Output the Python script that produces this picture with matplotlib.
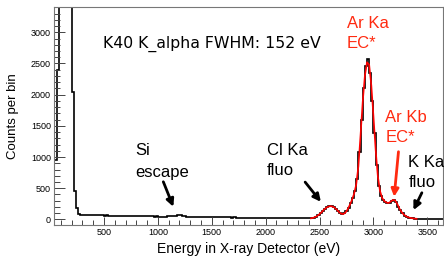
import matplotlib
matplotlib.use("Agg")
import matplotlib.pyplot as plt
import matplotlib.ticker as ticker
import numpy as np

# histogram: 20 eV bins starting at 40 eV
bin_start = 40
bin_width = 20
counts = [
    950, 2400, 5000, 5000, 5000, 5000, 5000, 5000, 2050, 450, 190, 90,
    # 280 - 500
    72, 68, 70, 66, 69, 67, 65, 68, 64, 66, 63,
    # 500 - 1000
    62, 64, 60, 61, 59, 60, 57, 56, 57, 55, 56, 53, 52, 54, 51, 52, 50, 51, 49,
    48, 50, 47, 48, 46, 47,
    # 1000 - 1100
    45, 46, 44, 45, 47,
    # Si escape 1100 - 1300
    50, 54, 58, 62, 64, 63, 58, 52, 46, 42,
    # 1300 - 2000
    41, 40, 39, 40, 38, 37, 38, 36, 37, 35, 36, 34, 35, 33, 34, 32, 33, 31, 32,
    30, 31, 29, 30, 29, 28, 29, 27, 28, 26, 27, 25, 26, 24, 25, 24,
    # 2000 - 2400
    23, 24, 22, 23, 21, 22, 20, 21, 19, 20, 18, 19, 17, 18, 17, 16, 17, 15, 16, 15,
    # 2400 - 3400
    18, 22, 30, 45, 70, 100, 135, 172, 195, 210,
    214, 200, 170, 135, 100, 82, 95, 140, 190, 260,
    340, 460, 650, 1080, 1600, 2100, 2460, 2570, 2350, 1900,
    1380, 880, 540, 380, 310, 280, 262, 265, 300, 318,
    280, 205, 145, 100, 62, 42, 30, 22, 15, 12,
    # 3400 - 3660
    11, 10, 12, 9, 10, 11, 9, 10, 8, 10, 9, 8, 9,
]

# red fit curve
fit_energy = np.arange(2420, 3401, 20)
fit_counts = [
    17, 25, 38, 58, 85, 118, 155, 185, 205, 212,
    207, 188, 155, 118, 92, 85, 110, 160, 230, 310,
    410, 560, 850, 1350, 1880, 2300, 2520, 2480, 2150, 1650,
    1120, 700, 460, 345, 295, 270, 262, 285, 312, 305,
    250, 175, 120, 80, 52, 35, 25, 18, 13, 10,
]

ymax = 3400
edges = bin_start + bin_width * np.arange(len(counts) + 1)

fig = plt.figure(figsize=(4.44, 2.57), dpi=100)
ax = fig.add_axes([0.1227, 0.1245, 0.8755, 0.8483])

# off-scale bins are drawn along the frame top, like ROOT does
ax.stairs(np.minimum(counts, ymax), edges, baseline=None, color="black", lw=1.2)
ax.plot(fit_energy, fit_counts, color="red", lw=1.2)

ax.xaxis.set_major_locator(ticker.MultipleLocator(500))
ax.xaxis.set_minor_locator(ticker.MultipleLocator(100))
ax.yaxis.set_major_locator(ticker.MultipleLocator(500))
ax.yaxis.set_minor_locator(ticker.MultipleLocator(100))
ax.tick_params(axis="both", which="both", direction="in", colors="#444444",
               labelcolor="black", labelsize=6.5, width=0.7)
ax.tick_params(axis="x", which="major", length=6, pad=2.5)
ax.tick_params(axis="x", which="minor", length=3.5)
ax.tick_params(axis="y", which="major", length=8, pad=2.5)
ax.tick_params(axis="y", which="minor", length=4)
xt = np.arange(500, 3501, 500)
ax.set_xticks(xt)
ax.set_xticklabels(["%d" % v for v in xt], family="Liberation Sans")
yt = np.arange(0, 3001, 500)
ax.set_yticks(yt)
ax.set_yticklabels(["%d" % v for v in yt], family="Liberation Sans")
ax.set_xlim(40, 3647)
ax.set_ylim(-90, 3406)

for side in ["top", "right", "left", "bottom"]:
    ax.spines[side].set_color("#777777")
    ax.spines[side].set_linewidth(0.8)

ax.set_xlabel("Energy in X-ray Detector (eV)", family="Liberation Sans", fontsize=10)
ax.xaxis.set_label_coords(0.5, -0.08)
ax.set_ylabel("Counts per bin", family="Liberation Sans", fontsize=9.5)
ax.yaxis.set_label_coords(-0.092, 0.5)

ax.text(493, 2745, "K40 K_alpha FWHM: 152 eV", fontsize=11.3, va="baseline")

red = "#ff2a10"
lab_font = dict(family="Liberation Sans", fontsize=12, va="baseline")
ax.text(2753, 3064, "Ar Ka", color=red, **lab_font)
ax.text(2753, 2743, "EC*", color=red, **lab_font)
ax.text(3109, 1566, "Ar Kb", color=red, **lab_font)
ax.text(3109, 1245, "EC*", color=red, **lab_font)
ax.text(3325, 844, "K Ka", color="black", **lab_font)
ax.text(3325, 513, "fluo", color="black", **lab_font)
ax.text(2010, 1032, "Cl Ka", color="black", **lab_font)
ax.text(2010, 711, "fluo", color="black", **lab_font)
ax.text(787, 1032, "Si", color="black", **lab_font)
ax.text(787, 683, "escape", color="black", **lab_font)

arrow_kw = dict(arrowstyle="-|>", lw=2, mutation_scale=11, shrinkA=0, shrinkB=0)
ax.annotate("", xy=(1143, 202), xytext=(1050, 603),
            arrowprops=dict(color="black", **arrow_kw))
ax.annotate("", xy=(2512, 282), xytext=(2366, 598),
            arrowprops=dict(color="black", **arrow_kw))
ax.annotate("", xy=(3192, 363), xytext=(3232, 1085),
            arrowprops=dict(color=red, **arrow_kw))
ax.annotate("", xy=(3371, 149), xytext=(3449, 427),
            arrowprops=dict(color="black", **arrow_kw))

fig.savefig("out.png", dpi=100)
